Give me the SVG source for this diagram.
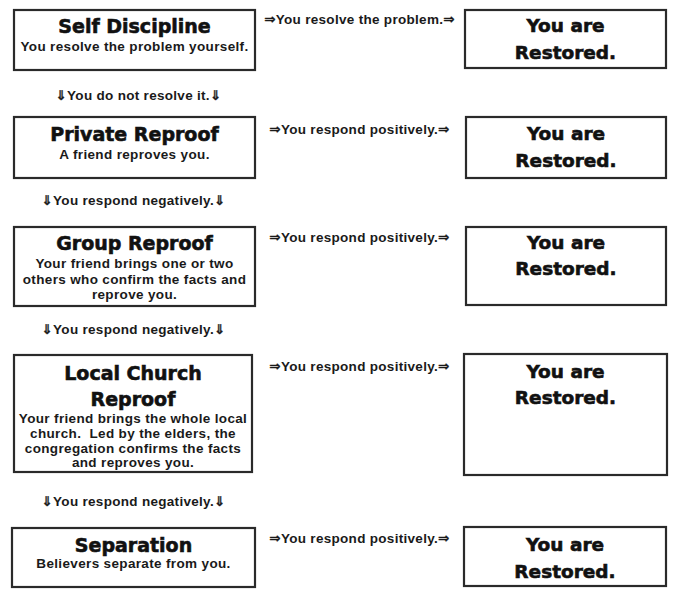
<svg xmlns="http://www.w3.org/2000/svg" width="687" height="602" viewBox="0 0 687 602">
<style>
.box{fill:#fff;stroke:#2a2a2a;stroke-width:2.2}
.t{font-family:"DejaVu Sans","Liberation Sans",sans-serif;font-weight:bold;font-size:19px;fill:#111;text-anchor:middle;stroke:#111;stroke-width:0.6}
.r{font-family:"DejaVu Sans","Liberation Sans",sans-serif;font-weight:bold;font-size:18.5px;fill:#111;text-anchor:middle;stroke:#111;stroke-width:0.6}
.s{font-family:"Liberation Sans",Arial,sans-serif;font-weight:bold;font-size:13.5px;letter-spacing:0.35px;fill:#1a1a1a;text-anchor:middle;white-space:pre}
.l{font-family:"Liberation Sans",sans-serif;font-weight:bold;font-size:13.5px;letter-spacing:0.3px;fill:#1a1a1a;text-anchor:middle}
.a{font-family:"DejaVu Sans",sans-serif;font-weight:bold;fill:#1a1a1a;stroke:#1a1a1a;stroke-width:0.3}
</style>
<rect width="687" height="602" fill="#fff"/>
<g id="self-discipline">
<rect class="box" x="14" y="10" width="241" height="60"/>
<text class="t" x="134.5" y="33">Self Discipline</text>
<text class="s" x="134.5" y="51">You resolve the problem yourself.</text>
</g>
<g id="restored-1">
<rect class="box" x="465" y="10" width="201" height="58"/>
<text class="r" x="565.5" y="32">You are</text>
<text class="r" x="565.5" y="59">Restored.</text>
</g>
<g id="private-reproof">
<rect class="box" x="14" y="117" width="241" height="61"/>
<text class="t" x="134.5" y="141">Private Reproof</text>
<text class="s" x="134.5" y="159">A friend reproves you.</text>
</g>
<g id="restored-2">
<rect class="box" x="466" y="117" width="200" height="61"/>
<text class="r" x="566" y="140">You are</text>
<text class="r" x="566" y="167">Restored.</text>
</g>
<g id="group-reproof">
<rect class="box" x="14" y="227" width="241" height="79"/>
<text class="t" x="134.5" y="250">Group Reproof</text>
<text class="s" x="134.5" y="268">Your friend brings one or two</text>
<text class="s" x="134.5" y="284">others who confirm the facts and</text>
<text class="s" x="134.5" y="299">reprove you.</text>
</g>
<g id="restored-3">
<rect class="box" x="466" y="227" width="200" height="78"/>
<text class="r" x="566" y="249">You are</text>
<text class="r" x="566" y="275">Restored.</text>
</g>
<g id="local-church-reproof">
<rect class="box" x="14" y="355" width="238" height="117"/>
<text class="t" x="133" y="380">Local Church</text>
<text class="t" x="133" y="406">Reproof</text>
<text class="s" x="133" y="423">Your friend brings the whole local</text>
<text class="s" x="133" y="438" xml:space="preserve">church.  Led by the elders, the</text>
<text class="s" x="133" y="453">congregation confirms the facts</text>
<text class="s" x="133" y="467">and reproves you.</text>
</g>
<g id="restored-4">
<rect class="box" x="464" y="354" width="203" height="121"/>
<text class="r" x="565.5" y="378">You are</text>
<text class="r" x="565.5" y="404">Restored.</text>
</g>
<g id="separation">
<rect class="box" x="12" y="528" width="243" height="59"/>
<text class="t" x="133.5" y="552">Separation</text>
<text class="s" x="133.5" y="568">Believers separate from you.</text>
</g>
<g id="restored-5">
<rect class="box" x="464" y="527" width="202" height="59"/>
<text class="r" x="565" y="551">You are</text>
<text class="r" x="565" y="578">Restored.</text>
</g>
<g id="connectors">
<text class="l" x="359.5" y="24"><tspan class="a">⇒</tspan>You resolve the problem.<tspan class="a">⇒</tspan></text>
<text class="l" x="138.5" y="100"><tspan class="a">⇓</tspan>You do not resolve it.<tspan class="a">⇓</tspan></text>
<text class="l" x="359.5" y="134"><tspan class="a">⇒</tspan>You respond positively.<tspan class="a">⇒</tspan></text>
<text class="l" x="133.5" y="205"><tspan class="a">⇓</tspan>You respond negatively.<tspan class="a">⇓</tspan></text>
<text class="l" x="359.5" y="242"><tspan class="a">⇒</tspan>You respond positively.<tspan class="a">⇒</tspan></text>
<text class="l" x="133.5" y="334"><tspan class="a">⇓</tspan>You respond negatively.<tspan class="a">⇓</tspan></text>
<text class="l" x="359.5" y="371"><tspan class="a">⇒</tspan>You respond positively.<tspan class="a">⇒</tspan></text>
<text class="l" x="133.5" y="506"><tspan class="a">⇓</tspan>You respond negatively.<tspan class="a">⇓</tspan></text>
<text class="l" x="359.5" y="543"><tspan class="a">⇒</tspan>You respond positively.<tspan class="a">⇒</tspan></text>
</g>
</svg>
